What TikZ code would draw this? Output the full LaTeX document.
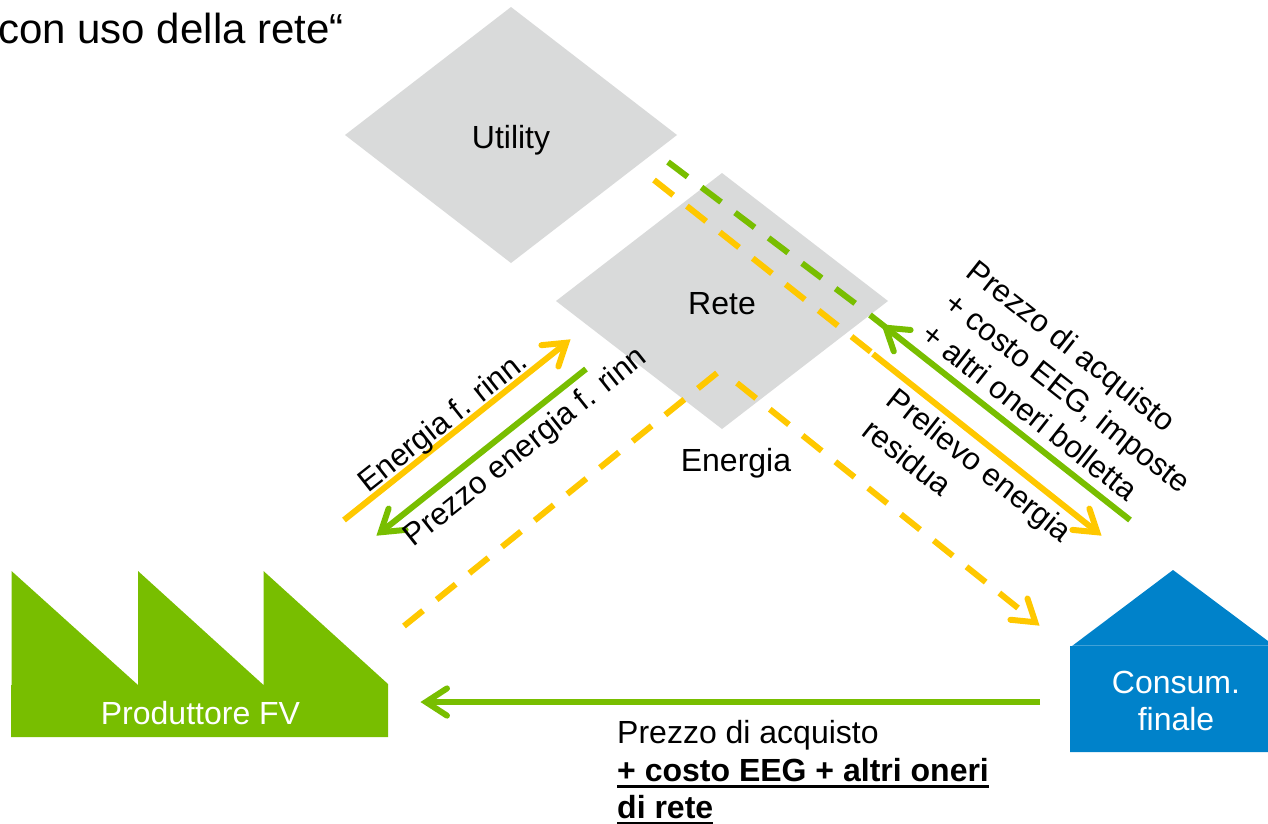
\documentclass[tikz,border=0pt]{standalone}
\usepackage{fontspec}
\setmainfont{Liberation Sans}
\usetikzlibrary{calc}
\definecolor{grn}{HTML}{78BE00}
\definecolor{ylw}{HTML}{FFC800}
\definecolor{blu}{HTML}{0082CA}
\definecolor{gry}{HTML}{D9DADA}
\newsavebox{\ulbox}
\newcommand{\ulbar}[1]{\sbox{\ulbox}{#1}\leavevmode\rlap{\rule[-6.5pt]{\wd\ulbox}{3pt}}\usebox{\ulbox}}
\newcommand{\barbhead}[3]{%
  \coordinate (bv) at ($(#2)!6pt!(#1)$);
  \draw[barbstroke,#3] ($(bv)!25pt!33:(#1)$) -- (bv) -- ($(bv)!25pt!-33:(#1)$);
}
\tikzset{
  lbl/.style={inner sep=0pt,font=\fontsize{32}{37.5}\selectfont,text=black},
  rlbl/.style={inner sep=0pt,font=\fontsize{31.2}{39}\selectfont,text=black},
  wlbl/.style={lbl,text=white},
  solidline/.style={line width=6pt,line cap=butt},
  dashline/.style={line width=6pt,line cap=butt,dash pattern=on 24.5pt off 17.5pt},
  barbstroke/.style={line width=6pt,line cap=round,line join=miter,miter limit=10},
  pane/.style={fill=gry,draw=none},
}
\begin{document}
\begin{tikzpicture}[x=1pt,y=-1pt]
\useasboundingbox (0,0) rectangle (1268,823);
\clip (0,0) rectangle (1268,823);
% diamonds
\fill[pane] (511,7) -- (677,135) -- (511,263) -- (345,135) -- cycle;
\fill[pane] (722,173) -- (888,301) -- (722,429) -- (556,301) -- cycle;
% factory
\fill[grn] (11.5,571) -- (138,685) -- (138,571) -- (263.5,685) -- (263.5,571) -- (388,684) -- (388,737) -- (11,737) -- (11,685) -- (11.5,685) -- cycle;
% house
\fill[blu] (1173,570) -- (1280,650) -- (1280,752) -- (1070,752) -- (1070,646) -- (1072,646) -- cycle;
\draw[white,opacity=.25,line width=.8pt] (1072,645.5) -- (1268,645.5);
% coordinates
\coordinate (gdA) at (668,162); \coordinate (gdB) at (856,304);
\coordinate (ydA) at (654,180); \coordinate (ydB) at (871,352);
\coordinate (gsA) at (1130,520); \coordinate (gsB) at (870,315); \coordinate (gsT) at (881,324);
\coordinate (ysA) at (873,354); \coordinate (ysT) at (1102,536);
\coordinate (dlA) at (717,373); \coordinate (dlB) at (404,626);
\coordinate (drA) at (737,383); \coordinate (drB) at (1018,608); \coordinate (drT) at (1040,626);
\coordinate (eA) at (344,520); \coordinate (eT) at (571,339);
\coordinate (pA) at (586,369); \coordinate (pT) at (376,536);
\coordinate (bA) at (1040,702); \coordinate (bT) at (420,702);
% connectors
\draw[dashline,grn] (gdA) -- (gdB);
\draw[dashline,ylw] (ydA) -- (ydB);
\draw[solidline,grn] (gsA) -- (gsB);
\barbhead{gsA}{gsT}{grn}
\draw[solidline,ylw] (ysA) -- ($(ysT)!6pt!(ysA)$);
\barbhead{ysA}{ysT}{ylw}
\draw[dashline,ylw] (dlA) -- (dlB);
\draw[dashline,ylw] (drA) -- (drB);
\barbhead{drA}{drT}{ylw}
\draw[solidline,ylw] (eA) -- ($(eT)!6pt!(eA)$);
\barbhead{eA}{eT}{ylw}
\draw[solidline,grn] (pA) -- ($(pT)!6pt!(pA)$);
\barbhead{pA}{pT}{grn}
\draw[solidline,grn] (bA) -- ($(bT)!6pt!(bA)$);
\barbhead{bA}{bT}{grn}
% labels
\node[lbl,anchor=base east,font=\fontsize{42}{48}\selectfont] (title) at (344,43) {con uso della rete“};
\node[lbl,anchor=base] (utility) at (511,148) {Utility};
\node[lbl,anchor=base] (rete) at (722,314) {Rete};
\node[lbl,anchor=base] (energia) at (736,471) {Energia};
\node[wlbl,anchor=base] (prod) at (200.5,724) {Produttore FV};
\node[wlbl,align=center,anchor=center] (cons) at (1176,701) {Consum.\\finale};
\node[rlbl,rotate=38.3] (efr) at (444,423) {Energia f. rinn.};
\node[rlbl,rotate=38.5] (pefr) at (526,448) {Prezzo energia f. rinn};
\node[rlbl,rotate=-38.3,align=center] (pacq) at (1054,381) {Prezzo di acquisto\hspace*{16pt}\\\hspace*{36pt}+ costo EEG, imposte\\+ altri oneri bolletta};
\node[rlbl,rotate=-38.3,align=left] (prel) at (968,480) {Prelievo energia\\residua};
\node[lbl,align=left,anchor=north west] (bottom) at (617,720.5) {Prezzo di acquisto\\\textbf{\ulbar{+ costo EEG + altri oneri}}\\\textbf{\ulbar{di rete}}};
\end{tikzpicture}
\end{document}
